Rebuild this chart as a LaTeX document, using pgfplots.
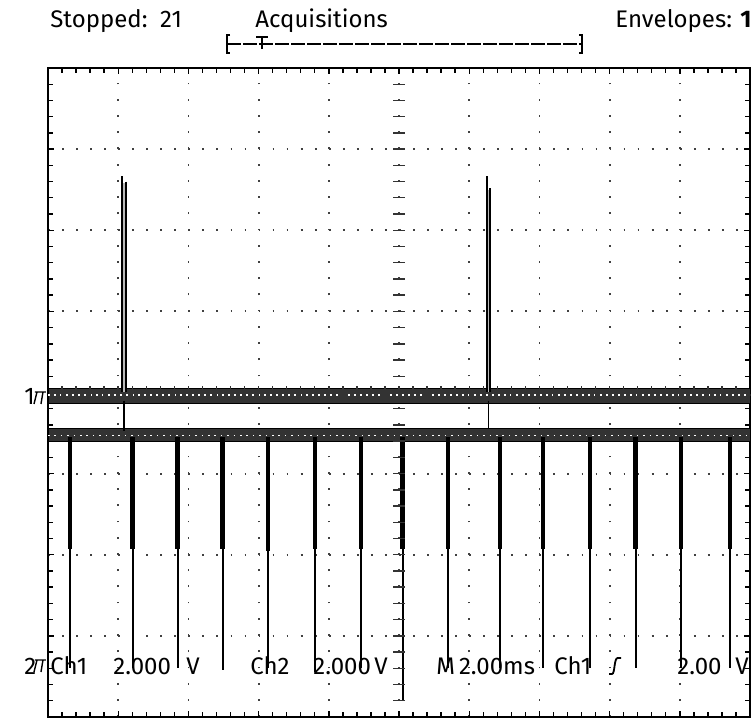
\documentclass[border=0pt]{standalone}
\usepackage{pgfplots}
\pgfplotsset{compat=1.18}
\usepackage{fontspec}
\setmainfont{Fira Sans}
\begin{document}
\begin{tikzpicture}
\path[use as bounding box] (-24pt,-5pt) rectangle (354pt,358.5pt);
\begin{axis}[
  at={(0pt,0pt)}, anchor=south west,
  scale only axis, width=351pt, height=324.5pt,
  xmin=0, xmax=10, ymin=-4, ymax=4,
  xtick={0,...,10}, ytick={-4,...,4},
  minor x tick num=4, minor y tick num=4,
  xticklabels={}, yticklabels={},
  tick align=inside, major tick length=3pt, minor tick length=2.5pt,
  tick style={black, line width=0.7pt},
  xmajorgrids, ymajorgrids,
  x grid style={black!75, line width=0.9pt, dash pattern=on 0.9pt off 7.21pt},
  y grid style={black!75, line width=0.9pt, dash pattern=on 0.9pt off 6.12pt},
  axis line style={line width=1.2pt},
  unbounded coords=jump,
]
% Ch1 noise band
\addplot[fill=black!80, draw=black, line width=0.5pt, forget plot] coordinates {(0,0.05) (10,0.05) (10,-0.13) (0,-0.13)} -- cycle;
\addplot[white, line width=0.6pt, dash pattern=on 0.8pt off 2.2pt, forget plot] coordinates {(0,-0.03) (10,-0.03)};
% Ch2 noise band
\addplot[fill=black!80, draw=black, line width=0.5pt, forget plot] coordinates {(0,-0.44) (10,-0.44) (10,-0.61) (0,-0.61)} -- cycle;
\addplot[white, line width=0.6pt, dash pattern=on 0.8pt off 2.4pt, forget plot] coordinates {(0,-0.53) (10,-0.53)};
% Ch2 pulses: thick part
\addplot[black, line width=2.3pt, forget plot] coordinates {
(0.313,-0.55) (0.313,-1.93) (nan,nan)
(1.207,-0.55) (1.207,-1.93) (nan,nan)
(1.848,-0.55) (1.848,-1.93) (nan,nan)
(2.489,-0.55) (2.489,-1.93) (nan,nan)
(3.134,-0.55) (3.134,-1.95) (nan,nan)
(3.803,-0.55) (3.803,-1.93) (nan,nan)
(4.459,-0.55) (4.459,-1.93) (nan,nan)
(5.053,-0.55) (5.053,-1.93) (nan,nan)
(5.698,-0.55) (5.698,-1.93) (nan,nan)
(6.439,-0.55) (6.439,-1.93) (nan,nan)
(7.051,-0.55) (7.051,-1.93) (nan,nan)
(7.721,-0.55) (7.721,-1.93) (nan,nan)
(8.372,-0.55) (8.372,-1.93) (nan,nan)
(9.017,-0.55) (9.017,-1.93) (nan,nan)
(9.715,-0.55) (9.715,-1.93)
};
% Ch2 pulses: thin tails
\addplot[black, line width=0.8pt, forget plot] coordinates {
(0.313,-1.93) (0.313,-3.40) (nan,nan)
(1.207,-1.93) (1.207,-3.40) (nan,nan)
(1.848,-1.93) (1.848,-3.40) (nan,nan)
(2.489,-1.93) (2.489,-3.42) (nan,nan)
(3.134,-1.93) (3.134,-3.40) (nan,nan)
(3.803,-1.93) (3.803,-3.45) (nan,nan)
(4.459,-1.93) (4.459,-3.40) (nan,nan)
(5.053,-1.93) (5.053,-3.79) (nan,nan)
(5.698,-1.93) (5.698,-3.40) (nan,nan)
(6.439,-1.93) (6.439,-3.40) (nan,nan)
(7.051,-1.93) (7.051,-3.40) (nan,nan)
(7.721,-1.93) (7.721,-3.40) (nan,nan)
(8.372,-1.93) (8.372,-3.40) (nan,nan)
(9.017,-1.93) (9.017,-3.40) (nan,nan)
(9.715,-1.93) (9.715,-3.40)
};
% Ch1 spikes
\addplot[gray!55, line width=2.2pt, forget plot] coordinates {(1.085,0.0) (1.085,2.58) (nan,nan) (6.277,0.0) (6.277,2.50)};
\addplot[black, line width=0.8pt, forget plot] coordinates {
(1.055,0.0) (1.055,2.67) (nan,nan) (1.115,2.60) (1.115,0.0) (nan,nan) (1.085,-0.10) (1.085,-0.47) (nan,nan)
(6.255,0.0) (6.255,2.67) (nan,nan) (6.300,2.52) (6.300,0.0) (nan,nan) (6.277,-0.10) (6.277,-0.45)};
\end{axis}
% centre graticule ticks
\foreach \i in {-19,...,19} \draw[black!80, line width=0.7pt] (172.5pt,162.25pt+\i*8.1125pt) -- (178.5pt,162.25pt+\i*8.1125pt);
\foreach \i in {-24,...,24} \draw[black!80, line width=0.7pt] (175.5pt+\i*7.02pt,159.25pt) -- (175.5pt+\i*7.02pt,165.25pt);
% header
\node[anchor=base west, inner sep=0pt, font=\fontsize{12}{14}\selectfont] at (1pt,344.5pt) {Stopped:\ \ 21};
\node[anchor=base west, inner sep=0pt, font=\fontsize{12}{14}\selectfont] at (103.5pt,344.5pt) {Acquisitions};
\node[anchor=base east, inner sep=0pt, font=\fontsize{12}{14}\selectfont] at (352pt,344.5pt) {Envelopes: \textbf{1}};
\draw[line width=0.7pt] (91pt,341pt) -- (89.5pt,341pt) -- (89.5pt,332pt) -- (91pt,332pt);
\draw[line width=0.7pt] (265.5pt,341pt) -- (267pt,341pt) -- (267pt,332pt) -- (265.5pt,332pt);
\draw[line width=0.6pt, dash pattern=on 7pt off 1pt] (89.5pt,336.5pt) -- (267pt,336.5pt);
\draw[line width=0.7pt] (104pt,340pt) -- (110pt,340pt) (107pt,340pt) -- (107pt,334pt);
% ground markers
\node[anchor=base west, inner sep=0pt, font=\fontsize{12}{14}\selectfont] at (-12pt,156pt) {1};
\draw[line width=0.7pt] (-6.5pt,162.5pt) -- (-1pt,162.5pt) (-5.5pt,162.5pt) -- (-7pt,156.5pt) (-2.5pt,162.5pt) -- (-3.5pt,156.5pt);
\node[anchor=base west, inner sep=0pt, font=\fontsize{12}{14}\selectfont] at (-12pt,21pt) {2};
\draw[line width=0.7pt] (-6.5pt,28.5pt) -- (-1pt,28.5pt) (-5.5pt,28.5pt) -- (-7pt,22.5pt) (-2.5pt,28.5pt) -- (-3.5pt,22.5pt);
% readout
\begin{scope}[every node/.style={anchor=base west, inner sep=0pt, font=\fontsize{12}{14}\selectfont}]
\node at (1pt,21pt) {Ch1};
\node at (32.5pt,21pt) {2.000};
\node at (69pt,21pt) {V};
\node at (101pt,21pt) {Ch2};
\node at (132.5pt,21pt) {2.000};
\node at (163pt,21pt) {V};
\node at (194pt,21pt) {M\,2.00ms};
\node at (253pt,21pt) {Ch1};
\node at (314.5pt,21pt) {2.00};
\node at (343.5pt,21pt) {V};
\end{scope}
\draw[line width=0.9pt] (280.5pt,21.5pt) -- (282pt,21.5pt) .. controls (283.5pt,21.5pt) and (283pt,29.5pt) .. (284.8pt,29.5pt) -- (286.5pt,29.5pt);
\end{tikzpicture}
\end{document}
